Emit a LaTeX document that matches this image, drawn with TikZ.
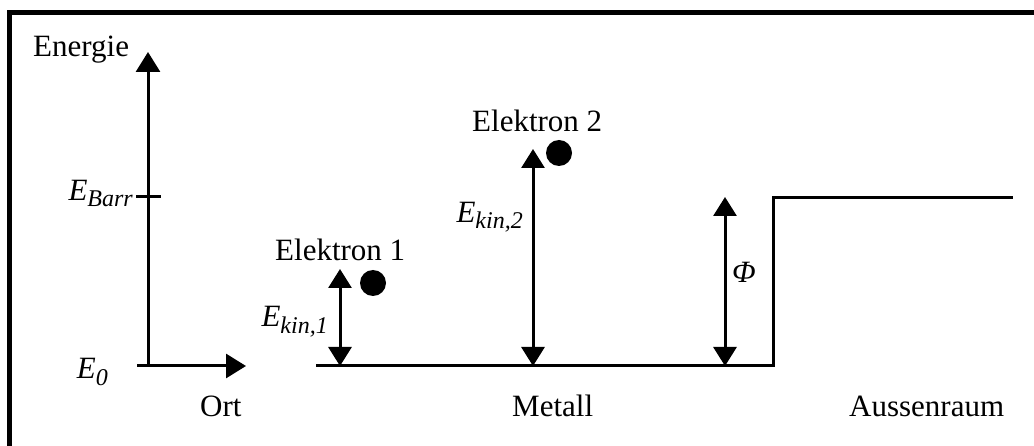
\documentclass[tikz,border=0pt]{standalone}
\usepackage{fontspec}
\setmainfont{Liberation Serif}
\usepackage{tikz}
\usetikzlibrary{arrows.meta, positioning, calc}

\newcommand{\tief}[1]{\raisebox{-6pt}{\fontsize{24}{28}\selectfont #1}}

\tikzset{
  linie/.style={line width=3pt},
  achse/.style={linie, -{Triangle[width=24pt,length=20pt]}},
  pfeil/.style={linie, {Triangle[width=23pt,length=19pt]}-{Triangle[width=23pt,length=19pt]}},
  txt/.style={inner sep=0pt, font=\fontsize{31}{37}\selectfont},
  elektron/.style={circle, fill=black, inner sep=0pt, minimum size=26pt},
}

\begin{document}
\begin{tikzpicture}[x=1pt, y=-1pt]
        \useasboundingbox (0,0) rectangle (1034,446);
        % Rahmen
        \draw[line width=5pt] (9.5,470) -- (9.5,12.5) -- (1060,12.5);
        % Achsen
        \coordinate (ursprung) at (148,366);
        \coordinate (xstart) at (137,366);
        \coordinate (xende) at (246,366);
        \coordinate (yende) at (148,52);
        \draw[achse] (ursprung) -- (yende);
        \draw[achse] (xstart) -- (xende);
        \coordinate (barrL) at (136,197);
        \coordinate (barrR) at (161,197);
        \draw[linie] (barrL) -- (barrR);
        \node[txt, anchor=base west] (energie) at (33,57) {Energie};
        \node[txt, anchor=base west] (ort) at (200,417) {Ort};
        \node[txt, anchor=base east] (ebarr) at (133,201) {\textit{E\tief{Barr}}};
        \node[txt, anchor=base east] (enull) at (108,379) {\textit{E\tief{0}}};
        % Potentialtopf
        \coordinate (mlinks) at (316,366);
        \coordinate (mrechts) at (773,366);
        \coordinate (kante) at (773,198);
        \coordinate (aussen) at (1013,198);
        \draw[linie] (mlinks) -- (mrechts) -- (kante) -- (aussen);
        \node[txt, anchor=base west] (metall) at (512,417) {Metall};
        \node[txt, anchor=base west] (raum) at (849,417) {Aussenraum};
        % Elektron 1
        \coordinate (ek1u) at (340,366);
        \coordinate (ek1o) at (340,269);
        \draw[pfeil] (ek1u) -- (ek1o);
        \node[elektron] (el1) at (373,283) {};
        \node[txt, anchor=base west] (lel1) at (275,261) {Elektron 1};
        \node[txt, anchor=base east] (ekin1) at (328,327) {\textit{E\tief{kin,1}}};
        % Elektron 2
        \coordinate (ek2u) at (533,366);
        \coordinate (ek2o) at (533,149);
        \draw[pfeil] (ek2u) -- (ek2o);
        \node[elektron] (el2) at (559,153) {};
        \node[txt, anchor=base west] (lel2) at (472,132) {Elektron 2};
        \node[txt, anchor=base east] (ekin2) at (523,223) {\textit{E\tief{kin,2}}};
        % Austrittsarbeit
        \coordinate (phiu) at (725,366);
        \coordinate (phio) at (725,197);
        \draw[pfeil] (phiu) -- (phio);
        \node[txt, anchor=base west] (phi) at (732,283) {\textit{Φ}};
\end{tikzpicture}
\end{document}
